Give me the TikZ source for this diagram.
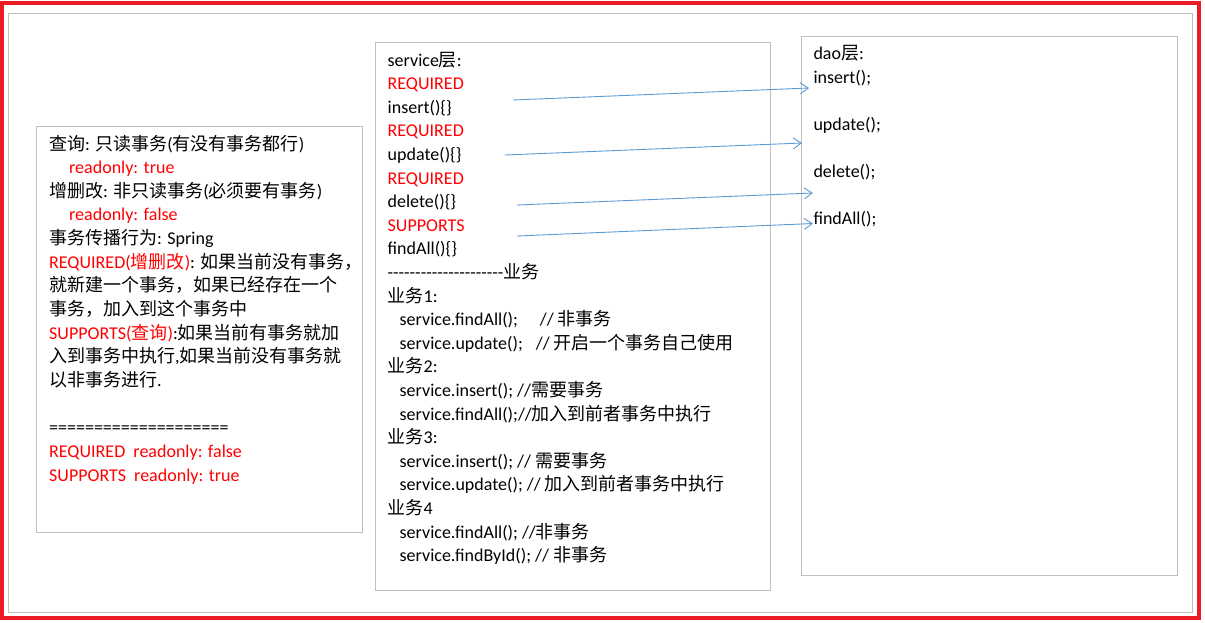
\documentclass[tikz,border=0pt]{standalone}
\usepackage{fontspec}
\setmainfont{Carlito}[Ligatures=ResetAll]
\newfontfamily\cjkfont{Noto Sans CJK SC}
\newcommand\zhtxt[1]{{\cjkfont #1}}
\usetikzlibrary{arrows.meta}
\definecolor{redtxt}{HTML}{FF0000}
\definecolor{frame}{HTML}{ED1C24}
\definecolor{boxgray}{HTML}{BFBFBF}
\definecolor{arrowblue}{HTML}{5B9BD5}
\tikzset{
  txt/.style={anchor=base west, inner sep=0pt, font=\fontsize{18}{22}\selectfont, text=black},
  rtxt/.style={txt, text=redtxt},
  panel/.style={draw=boxgray, line width=1pt},
  link/.style={draw=arrowblue, line width=0.9pt, -{Straight Barb[length=8pt,width=11pt,line width=0.9pt]}}
}
\begin{document}
\begin{tikzpicture}[x=1pt,y=-1pt]
\useasboundingbox (0,0) rectangle (1205,622);
% frames
\draw[frame, line width=4pt] (2,3) rectangle (1198.7,618.3);
\draw[panel] (8.3,13.3) rectangle (1192.3,612.5);
\draw[panel] (36.7,126) rectangle (362.3,532.3);
\draw[panel] (375.3,42.7) rectangle (770,590.3);
\draw[panel] (801.8,36) rectangle (1177.3,575.7);

% left box
\def\lb#1{150+#1*23.65}
\node[txt] (l0) at (49,{\lb{0}}) {\zhtxt{查询}: \zhtxt{只读事务}(\zhtxt{有没有事务都行})};
\node[rtxt] (l1) at (69,{\lb{1}}) {readonly: true};
\node[txt] (l2) at (49,{\lb{2}}) {\zhtxt{增删改}: \zhtxt{非只读事务}(\zhtxt{必须要有事务})};
\node[rtxt] (l3) at (69,{\lb{3}}) {readonly: false};
\node[txt] (l4) at (49,{\lb{4}}) {\zhtxt{事务传播行为}: Spring};
\node[txt] (l5) at (49,{\lb{5}}) {\textcolor{redtxt}{REQUIRED(\zhtxt{增删改})}: \zhtxt{如果当前没有事务，}};
\node[txt] (l6) at (49,{\lb{6}}) {\zhtxt{就新建一个事务，如果已经存在一个}};
\node[txt] (l7) at (49,{\lb{7}}) {\zhtxt{事务，加入到这个事务中}};
\node[txt] (l8) at (49,{\lb{8}}) {\textcolor{redtxt}{SUPPORTS(\zhtxt{查询})}:\zhtxt{如果当前有事务就加}};
\node[txt] (l9) at (49,{\lb{9}}) {\zhtxt{入到事务中执行},\zhtxt{如果当前没有事务就}};
\node[txt] (l10) at (49,{\lb{10}}) {\zhtxt{以非事务进行}.};
\node[txt] (l12) at (49,{\lb{12}}) {====================};
\node[rtxt] (l13) at (49,{\lb{13}}) {REQUIRED\ \ readonly: false};
\node[rtxt] (l14) at (49,{\lb{14}}) {SUPPORTS\ \ readonly: true};

% middle box
\def\mb#1{66+#1*23.6}
\node[txt] (m0) at (387.5,{\mb{0}}) {service\zhtxt{层}:};
\node[rtxt] (m1) at (387.5,{\mb{1}}) {REQUIRED};
\node[txt] (m2) at (387.5,{\mb{2}}) {insert()\{\}};
\node[rtxt] (m3) at (387.5,{\mb{3}}) {REQUIRED};
\node[txt] (m4) at (387.5,{\mb{4}}) {update()\{\}};
\node[rtxt] (m5) at (387.5,{\mb{5}}) {REQUIRED};
\node[txt] (m6) at (387.5,{\mb{6}}) {delete()\{\}};
\node[rtxt] (m7) at (387.5,{\mb{7}}) {SUPPORTS};
\node[txt] (m8) at (387.5,{\mb{8}}) {findAll()\{\}};
\node[txt] (m9) at (387.5,{\mb{9}}) {-{}-{}-{}-{}-{}-{}-{}-{}-{}-{}-{}-{}-{}-{}-{}-{}-{}-{}-{}-{}-{}\zhtxt{业务}};
\node[txt] (m10) at (387.5,{\mb{10}}) {\zhtxt{业务}1:};
\node[txt] (m11) at (399.5,{\mb{11}}) {service.findAll();\hspace{22pt}// \zhtxt{非事务}};
\node[txt] (m12) at (399.5,{\mb{12}}) {service.update();\hspace{13pt}// \zhtxt{开启一个事务自己使用}};
\node[txt] (m13) at (387.5,{\mb{13}}) {\zhtxt{业务}2:};
\node[txt] (m14) at (399.5,{\mb{14}}) {service.insert(); //\zhtxt{需要事务}};
\node[txt] (m15) at (399.5,{\mb{15}}) {service.findAll();//\zhtxt{加入到前者事务中执行}};
\node[txt] (m16) at (387.5,{\mb{16}}) {\zhtxt{业务}3:};
\node[txt] (m17) at (399.5,{\mb{17}}) {service.insert(); // \zhtxt{需要事务}};
\node[txt] (m18) at (399.5,{\mb{18}}) {service.update(); // \zhtxt{加入到前者事务中执行}};
\node[txt] (m19) at (387.5,{\mb{19}}) {\zhtxt{业务}4};
\node[txt] (m20) at (399.5,{\mb{20}}) {service.findAll(); //\zhtxt{非事务}};
\node[txt] (m21) at (399.5,{\mb{21}}) {service.findById(); // \zhtxt{非事务}};

% right box
\node[txt] (d0) at (813.3,59.5) {dao\zhtxt{层}:};
\node[txt] (d1) at (813.3,83.3) {insert();};
\node[txt] (d2) at (813.3,130.5) {update();};
\node[txt] (d3) at (813.3,177.7) {delete();};
\node[txt] (d4) at (813.3,224.9) {findAll();};

% arrows
\coordinate (a1s) at (513,100);
\coordinate (a1e) at (809,88);
\coordinate (a2s) at (505,155);
\coordinate (a2e) at (802,143);
\coordinate (a3s) at (517,205);
\coordinate (a3e) at (813,193);
\coordinate (a4s) at (517,236);
\coordinate (a4e) at (813,223.5);
\draw[link] (a1s) -- (a1e);
\draw[link] (a2s) -- (a2e);
\draw[link] (a3s) -- (a3e);
\draw[link] (a4s) -- (a4e);
\end{tikzpicture}
\end{document}
